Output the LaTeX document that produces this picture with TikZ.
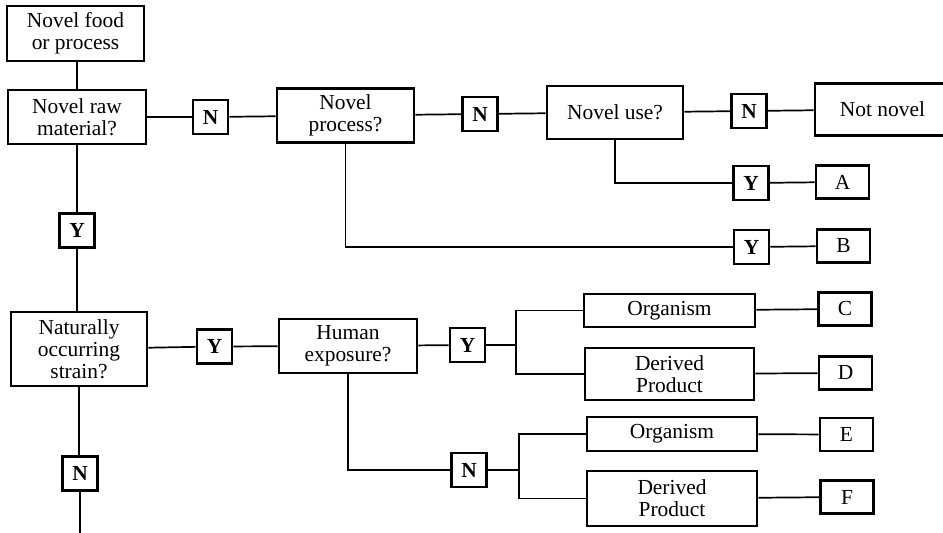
\documentclass[tikz,border=0pt]{standalone}
\usepackage{fontspec}
\setmainfont{Liberation Serif}
\begin{document}
\begin{tikzpicture}
            [x=0.7pt, y=-0.7pt,
            box/.style={draw, line width=1.9pt, align=center, inner sep=0pt,
              font=\fontsize{15}{15.5}\selectfont},
            sz/.style 2 args={minimum width=#1*0.7pt, minimum height=#2*0.7pt},
            yn/.style={box, sz={35}{34}, font=\fontsize{15}{15.5}\selectfont\bfseries},
            res/.style={box, sz={53}{33}},
            edge/.style={line width=1.2pt, black}]

            \clip (0,0) rectangle (943,533);

            % first column
            \node[box, sz={137}{55}] (food) at (75.5,33.5) {Novel food\\or process};
            \node[box, sz={138}{54}] (raw) at (77,117) {Novel raw\\material?};
            \node[yn] (y0) at (77,230.5) {Y};
            \node[box, sz={136}{74}] (nat) at (79,349) {Naturally\\occurring\\strain?};
            \node[yn] (n4) at (80,473.5) {N};
            \coordinate (end) at (80,540);

            % top row
            \node[yn] (n1) at (210.5,117) {N};
            \node[box, sz={137}{54}] (proc) at (345.5,115.5) {Novel\\process?};
            \node[yn] (n2) at (480,114) {N};
            \node[box, sz={136}{53}] (use) at (615,112.5) {Novel use?};
            \node[yn] (n3) at (749,111) {N};
            \node[box, sz={135}{52}] (notnov) at (882.5,109.5) {Not novel};
            \node[yn] (ya) at (751,183) {Y};
            \node[res] (a) at (842.5,182) {A};
            \node[yn] (yb) at (751.5,247) {Y};
            \node[res] (b) at (843.5,246) {B};

            % lower part
            \node[yn] (y1) at (214.5,346.5) {Y};
            \node[box, sz={138}{54}] (hum) at (348,346) {Human\\exposure?};
            \node[yn] (y2) at (467.5,345) {Y};
            \node[yn] (n5) at (469,470) {N};
            \coordinate (j1) at (516,345);
            \coordinate (j2) at (519,470);
            \node[box, sz={171}{33}] (org1) at (669.5,310.5) {Organism};
            \node[box, sz={169}{52}] (der1) at (669.5,374) {Derived\\Product};
            \node[box, sz={170}{34}] (org2) at (672,434) {Organism};
            \node[box, sz={170}{55}] (der2) at (672,498.5) {Derived\\Product};
            \node[res] (c) at (845,309) {C};
            \node[res] (d) at (845.5,373) {D};
            \node[res] (e) at (846.5,434.5) {E};
            \node[res] (f) at (847,497) {F};

            % connectors
            \draw[edge] (food.south -| raw) -- (raw.north);
            \draw[edge] (raw.south) -- (y0.north);
            \draw[edge] (y0.south) -- (y0.south |- nat.north);
            \draw[edge] (nat.south) -- (nat.south |- n4.north);
            \draw[edge] (n4) -- (end);
            \draw[edge] (raw) -- (n1);
            \draw[edge] (n1) -- (proc);
            \draw[edge] (proc) -- (n2);
            \draw[edge] (n2) -- (use);
            \draw[edge] (use) -- (n3);
            \draw[edge] (n3) -- (notnov);
            \draw[edge] (use.south) |- (ya);
            \draw[edge] (ya) -- (a);
            \draw[edge] (proc.south) |- (yb);
            \draw[edge] (yb) -- (b);
            \draw[edge] (nat) -- (y1);
            \draw[edge] (y1) -- (hum);
            \draw[edge] (hum) -- (y2);
            \draw[edge] (y2) -- (j1);
            \draw[edge] (org1.west) -| (j1) |- (der1.west);
            \draw[edge] (hum.south) |- (n5);
            \draw[edge] (n5) -- (j2);
            \draw[edge] (org2.west) -| (j2) |- (der2.west);
            \draw[edge] (org1) -- (c);
            \draw[edge] (der1) -- (d);
            \draw[edge] (org2) -- (e);
            \draw[edge] (der2) -- (f);

        \end{tikzpicture}
\end{document}
